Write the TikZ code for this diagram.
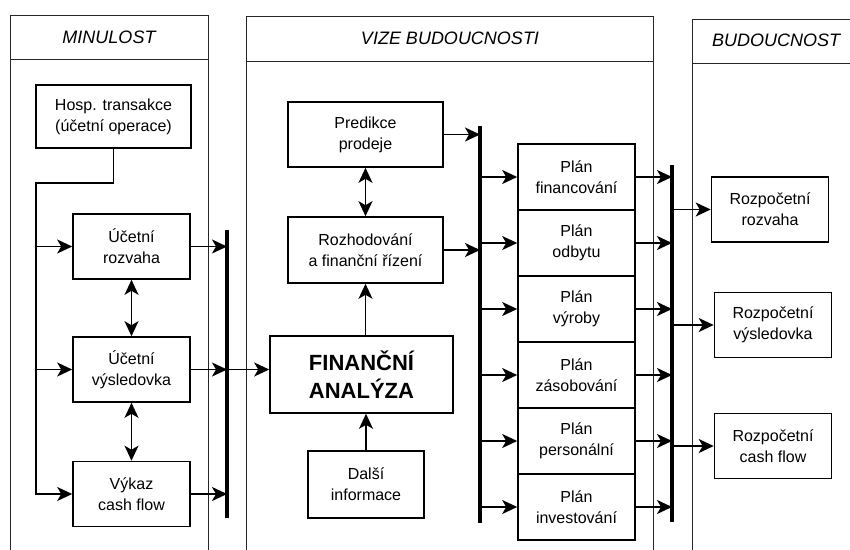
\documentclass[tikz,border=0pt]{standalone}
\usepackage{fontspec}
\setmainfont{Liberation Sans}
\usetikzlibrary{arrows.meta,positioning}

\tikzset{
  box/.style={draw,line width=1.6pt,minimum width=117pt,minimum height=65pt,
              inner sep=1pt,align=center,font=\fontsize{16}{21}\selectfont},
  arr/.style={line width=1.7pt,-{Stealth[length=15pt,width=14pt,inset=4pt]}},
  dblarr/.style={line width=1.7pt,
                 {Stealth[length=15pt,width=14pt,inset=4pt]}-{Stealth[length=15pt,width=14pt,inset=4pt]}},
  bar/.style={line width=4.5pt},
  panel/.style={line width=1pt,black!85},
  head/.style={font=\fontsize{18}{20}\selectfont\itshape}
}

\begin{document}
\begin{tikzpicture}[x=1pt,y=-1pt]
 \useasboundingbox (0,0) rectangle (850,549);
 \clip (0,0) rectangle (850,549);
 % panels
 \draw[panel] (10,15) rectangle (208,560);
 \draw[panel] (10,59) -- (208,59);
 \draw[panel] (246,16) rectangle (653,560);
 \draw[panel] (246,61) -- (653,61);
 \draw[panel] (692,19) rectangle (870,560);
 \draw[panel] (692,63) -- (870,63);
 \node[head] (hminulost) at (109,37) {MINULOST};
 \node[head] (hvize) at (450,38) {VIZE BUDOUCNOSTI};
 \node[head,anchor=west,inner sep=0pt] (hbudoucnost) at (712,40) {BUDOUCNOST};

 % minulost
 \node[box,minimum width=155pt,minimum height=63pt] (hosp) at (113.5,116.5) {Hosp. transakce\\(účetní operace)};
 \node[box] (rozv) at (131.5,246.5) {Účetní\\rozvaha};
 \node[box] (vysl) at (131.5,369.5) {Účetní\\výsledovka};
 \node[box] (cf) at (131.5,494) {Výkaz\\cash flow};
 \coordinate (feed) at (36,183);
 \coordinate (bar1) at (227,230);
 \coordinate (bar1e) at (227,518);

 % vize budoucnosti
 \node[box,minimum width=155pt] (pred) at (365.5,134.5) {Predikce\\prodeje};
 \node[box,minimum width=155pt,minimum height=66pt] (rozh) at (365.5,250) {Rozhodování\\a finanční řízení};
 \node[box,minimum width=183pt,minimum height=77pt,font=\fontsize{22}{28}\selectfont\bfseries] (fa) at (361.5,374.5) {FINANČNÍ\\ANALÝZA};
 \node[box,minimum width=116pt,minimum height=67pt] (dalsi) at (366,484.5) {Další\\informace};
 \coordinate (bar2) at (480,126);
 \coordinate (bar2e) at (480,523);
 \foreach \txt [count=\i] in {financování,odbytu,výroby,zásobování,personální,investování}
   \node[box,minimum height=66pt] (p\i) at (576.5,{111+66*\i}) {Plán\\\txt};
 \coordinate (bar3) at (672,165);
 \coordinate (bar3e) at (672,522);

 % budoucnost
 \node[box] (rr) at (770,209.5) {Rozpočetní\\rozvaha};
 \node[box] (rv) at (773,325) {Rozpočetní\\výsledovka};
 \node[box] (rc) at (773,446) {Rozpočetní\\cash flow};

 % connectors
 \draw[arr] (hosp.south) |- (feed) -- (feed |- cf.west) -- (cf.west);
 \draw[arr] (feed |- rozv.west) -- (rozv.west);
 \draw[arr] (feed |- vysl.west) -- (vysl.west);
 \draw[dblarr] (rozv.south) -- (vysl.north);
 \draw[dblarr] (vysl.south) -- (cf.north);
 \foreach \b in {rozv,vysl,cf}
   \draw[arr] (\b.east) -- (\b.east -| bar1);
 \draw[bar] (bar1) -- (bar1e);
 \draw[arr] (vysl.east -| bar1) -- (vysl.east -| fa.west);

 \draw[dblarr] (pred.south) -- (rozh.north);
 \draw[arr] (rozh.south |- fa.north) -- (rozh.south);
 \draw[arr] (dalsi.north) -- (dalsi.north |- fa.south);
 \draw[arr] (pred.east) -- (pred.east -| bar2);
 \draw[arr] (rozh.east) -- (rozh.east -| bar2);
 \draw[bar] (bar2) -- (bar2e);
 \foreach \i in {1,...,6} {
   \draw[arr] (p\i.west -| bar2) -- (p\i.west);
   \draw[arr] (p\i.east) -- (p\i.east -| bar3);
 }
 \draw[bar] (bar3) -- (bar3e);
 \foreach \r in {rr,rv,rc}
   \draw[arr] (\r.west -| bar3) -- (\r.west);
\end{tikzpicture}
\end{document}
